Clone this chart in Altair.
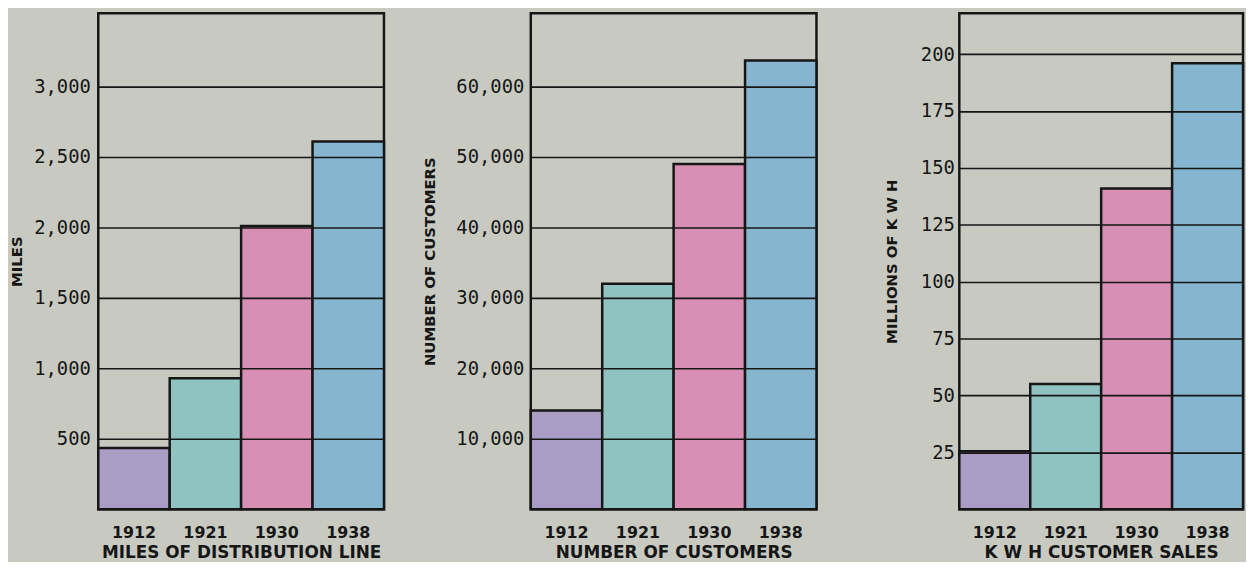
import altair as alt
import pandas as pd

years = ["1912", "1921", "1930", "1938"]
miles = [435, 930, 2010, 2610]
customers = [14000, 32000, 49000, 63700]
kwh = [25.5, 55, 141, 196]

miles_ticks = [500, 1000, 1500, 2000, 2500, 3000]
customer_ticks = [10000, 20000, 30000, 40000, 50000, 60000]
kwh_ticks = [25, 50, 75, 100, 125, 150, 175, 200]

bar_colors = ["#a99dc6", "#8fc3c1", "#d78fb3", "#86b6cf"]

INK = "#161616"
PLOT_H = 500


def panel(values, ticks, dmax, ytitle, xtitle, width, extent, tpad, lpad):
    df = pd.DataFrame({"year": years, "value": values})
    return (
        alt.Chart(df)
        .mark_bar(stroke=INK, strokeWidth=2.5)
        .encode(
            x=alt.X(
                "year:N",
                sort=years,
                scale=alt.Scale(paddingInner=0, paddingOuter=0),
                axis=alt.Axis(
                    title=xtitle,
                    labelAngle=0,
                    ticks=False,
                    tickSize=0,
                    domain=False,
                    grid=False,
                    labelPadding=16,
                    titlePadding=4,
                    labelFont="DejaVu Sans",
                    labelFontWeight="bold",
                    labelFontSize=16,
                    labelColor=INK,
                    titleFont="DejaVu Sans",
                    titleFontWeight="bold",
                    titleFontSize=17,
                    titleColor=INK,
                ),
            ),
            y=alt.Y(
                "value:Q",
                scale=alt.Scale(domain=[0, dmax], nice=False, zero=True),
                axis=alt.Axis(
                    title=ytitle,
                    values=ticks,
                    format=",d",
                    grid=True,
                    gridColor=INK,
                    gridWidth=1.6,
                    ticks=False,
                    tickSize=0,
                    domain=False,
                    labelPadding=lpad,
                    minExtent=extent,
                    maxExtent=extent,
                    titlePadding=tpad,
                    zindex=1,
                    labelFont="DejaVu Sans Mono",
                    labelFontSize=19,
                    labelColor=INK,
                    titleFont="DejaVu Sans",
                    titleFontWeight="bold",
                    titleFontSize=15,
                    titleColor=INK,
                ),
            ),
            color=alt.Color(
                "year:N",
                scale=alt.Scale(domain=years, range=bar_colors),
                legend=None,
            ),
        )
        .properties(width=width, height=PLOT_H)
    )


p1 = panel(miles, miles_ticks, 3520, "MILES", "MILES OF DISTRIBUTION LINE", 288, 66, 8, 8)
p2 = panel(customers, customer_ticks, 70400, "NUMBER OF CUSTOMERS", "NUMBER OF CUSTOMERS", 288, 77, 17, 7)
p3 = panel(kwh, kwh_ticks, 218, "MILLIONS OF K W H", "K W H CUSTOMER SALES", 286, 39, 21, 5)

chart = (
    alt.hconcat(alt.hconcat(p1, p2, spacing=34), p3, spacing=64)
    .properties(
        background="#c8cac2",
        padding={"left": 0, "top": 1, "right": 0, "bottom": -3},
    )
    .configure_view(stroke=INK, strokeWidth=2.5, fill=None)
)

chart.save("out.html", embed_options={"renderer": "svg", "actions": False})
